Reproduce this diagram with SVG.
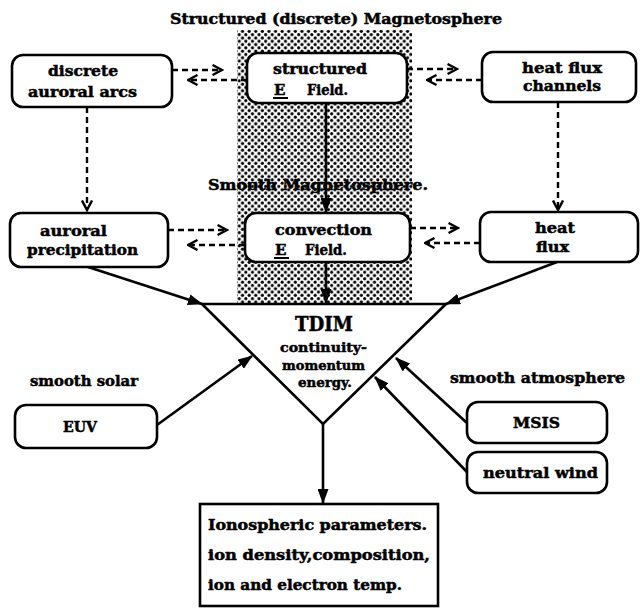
<svg xmlns="http://www.w3.org/2000/svg" width="640" height="613" viewBox="0 0 640 613">
<defs>
<pattern id="dots" width="6.6" height="6.6" patternUnits="userSpaceOnUse">
<rect width="6.6" height="6.6" fill="#fff"/>
<circle cx="1.65" cy="1.65" r="1.6" fill="#000"/>
<circle cx="4.95" cy="4.95" r="1.6" fill="#000"/>
</pattern>
<marker id="fa" markerUnits="userSpaceOnUse" markerWidth="15" markerHeight="11" viewBox="0 0 15 11" refX="14" refY="5.5" orient="auto">
<path d="M0,0 L15,5.5 L0,11 z" fill="#000"/>
</marker>
<marker id="oa" markerUnits="userSpaceOnUse" markerWidth="12" markerHeight="12" viewBox="0 0 12 12" refX="10.5" refY="6" orient="auto">
<path d="M1,1 L10.5,6 L1,11" fill="none" stroke="#000" stroke-width="2.4"/>
</marker>
</defs>
<style>
.box{fill:#fff;stroke:#000;stroke-width:2.6}
.t{font-family:"DejaVu Serif","Liberation Serif",serif;font-weight:bold;font-size:15px;fill:#000;stroke:#000;stroke-width:0.5}
.s{font-size:13px}
.solid{stroke:#000;stroke-width:2.6;fill:none}
.dash{stroke:#000;stroke-width:2.4;fill:none;stroke-dasharray:6 4}
</style>
<rect x="237" y="30" width="175" height="274" fill="url(#dots)"/>
<text class="t" x="170" y="24" textLength="332" lengthAdjust="spacingAndGlyphs">Structured (discrete) Magnetosphere</text>
<g id="connectors">
<line class="dash" x1="172" y1="70" x2="222" y2="70" marker-end="url(#oa)"/>
<line class="dash" x1="247" y1="80" x2="188" y2="80" marker-end="url(#oa)"/>
<line class="dash" x1="407" y1="69" x2="457" y2="69" marker-end="url(#oa)"/>
<line class="dash" x1="482" y1="80" x2="427" y2="80" marker-end="url(#oa)"/>
<line class="dash" x1="168" y1="230" x2="227" y2="230" marker-end="url(#oa)"/>
<line class="dash" x1="245" y1="245" x2="188" y2="245" marker-end="url(#oa)"/>
<line class="dash" x1="410" y1="228" x2="458" y2="228" marker-end="url(#oa)"/>
<line class="dash" x1="480" y1="243" x2="425" y2="243" marker-end="url(#oa)"/>
<line class="dash" x1="87" y1="107" x2="87" y2="210" marker-end="url(#oa)"/>
<line class="dash" x1="558" y1="102" x2="558" y2="210" marker-end="url(#oa)"/>
<line class="solid" x1="326" y1="103" x2="326" y2="212" marker-end="url(#fa)"/>
<line class="solid" x1="326" y1="262" x2="326" y2="303" marker-end="url(#fa)"/>
<line class="solid" x1="88" y1="267" x2="202" y2="304" marker-end="url(#fa)"/>
<line class="solid" x1="557" y1="262" x2="446" y2="304" marker-end="url(#fa)"/>
<line class="solid" x1="157" y1="425" x2="252" y2="356" marker-end="url(#fa)"/>
<line class="solid" x1="467" y1="423" x2="396" y2="358" marker-end="url(#fa)"/>
<line class="solid" x1="467" y1="472" x2="375" y2="377" marker-end="url(#fa)"/>
<line class="solid" x1="323" y1="424" x2="323" y2="503" marker-end="url(#fa)"/>
</g>
<text class="t" x="208" y="190" textLength="220" lengthAdjust="spacingAndGlyphs">Smooth  Magnetosphere.</text>
<g id="arcs">
<rect class="box" x="12" y="55" width="160" height="52" rx="11"/>
<text class="t" x="48" y="76" textLength="70" lengthAdjust="spacingAndGlyphs">discrete</text>
<text class="t" x="28" y="97" textLength="109" lengthAdjust="spacingAndGlyphs">auroral arcs</text>
</g>
<g id="structured">
<rect class="box" x="247" y="53" width="160" height="50" rx="11"/>
<text class="t" x="273" y="74" textLength="94" lengthAdjust="spacingAndGlyphs">structured</text>
<text class="t" x="274" y="95">E</text>
<line x1="273" y1="98" x2="288" y2="98" stroke="#000" stroke-width="2"/>
<text class="t" x="307" y="95" textLength="41" lengthAdjust="spacingAndGlyphs">Field.</text>
</g>
<g id="channels">
<rect class="box" x="482" y="52" width="154" height="50" rx="11"/>
<text class="t" x="522" y="73" textLength="80" lengthAdjust="spacingAndGlyphs">heat flux</text>
<text class="t" x="523" y="91" textLength="78" lengthAdjust="spacingAndGlyphs">channels</text>
</g>
<g id="precipitation">
<rect class="box" x="10" y="213" width="158" height="54" rx="11"/>
<text class="t" x="40" y="236" textLength="67" lengthAdjust="spacingAndGlyphs">auroral</text>
<text class="t" x="27" y="255" textLength="111" lengthAdjust="spacingAndGlyphs">precipitation</text>
</g>
<g id="convection">
<rect class="box" x="245" y="213" width="165" height="49" rx="11"/>
<text class="t" x="275" y="235" textLength="97" lengthAdjust="spacingAndGlyphs">convection</text>
<text class="t" x="275" y="255">E</text>
<line x1="274" y1="258" x2="289" y2="258" stroke="#000" stroke-width="2"/>
<text class="t" x="305" y="255" textLength="42" lengthAdjust="spacingAndGlyphs">Field.</text>
</g>
<g id="heatflux">
<rect class="box" x="480" y="212" width="158" height="50" rx="11"/>
<text class="t" x="535" y="233" textLength="40" lengthAdjust="spacingAndGlyphs">heat</text>
<text class="t" x="536" y="252" textLength="33" lengthAdjust="spacingAndGlyphs">flux</text>
</g>
<g id="tdim">
<path d="M202,304 L446,304 L323,424 z" fill="#fff" stroke="#000" stroke-width="2.6" stroke-linejoin="miter"/>
<text class="t" x="295" y="331" style="font-size:21px" textLength="58" lengthAdjust="spacingAndGlyphs">TDIM</text>
<text class="t s" x="280" y="352" textLength="87" lengthAdjust="spacingAndGlyphs">continuity-</text>
<text class="t s" x="282" y="370" textLength="83" lengthAdjust="spacingAndGlyphs">momentum</text>
<text class="t s" x="298" y="387" textLength="54" lengthAdjust="spacingAndGlyphs">energy.</text>
</g>
<text class="t" x="30" y="386" textLength="108" lengthAdjust="spacingAndGlyphs">smooth solar</text>
<g id="euv">
<rect class="box" x="15" y="405" width="142" height="43" rx="11"/>
<text class="t" x="63" y="432" textLength="34" lengthAdjust="spacingAndGlyphs">EUV</text>
</g>
<text class="t" x="450" y="383" textLength="175" lengthAdjust="spacingAndGlyphs">smooth atmosphere</text>
<g id="msis">
<rect class="box" x="467" y="402" width="140" height="41" rx="11"/>
<text class="t" x="513" y="428" textLength="47" lengthAdjust="spacingAndGlyphs">MSIS</text>
</g>
<g id="wind">
<rect class="box" x="467" y="452" width="140" height="41" rx="11"/>
<text class="t" x="483" y="478" textLength="115" lengthAdjust="spacingAndGlyphs">neutral wind</text>
</g>
<g id="output">
<rect x="200" y="504" width="238" height="102" fill="#fff" stroke="#000" stroke-width="2.6"/>
<text class="t" x="208" y="530" textLength="219" lengthAdjust="spacingAndGlyphs">Ionospheric parameters.</text>
<text class="t" x="208" y="560" textLength="222" lengthAdjust="spacingAndGlyphs">ion density,composition,</text>
<text class="t" x="208" y="590" textLength="194" lengthAdjust="spacingAndGlyphs">ion and electron temp.</text>
</g>
</svg>
